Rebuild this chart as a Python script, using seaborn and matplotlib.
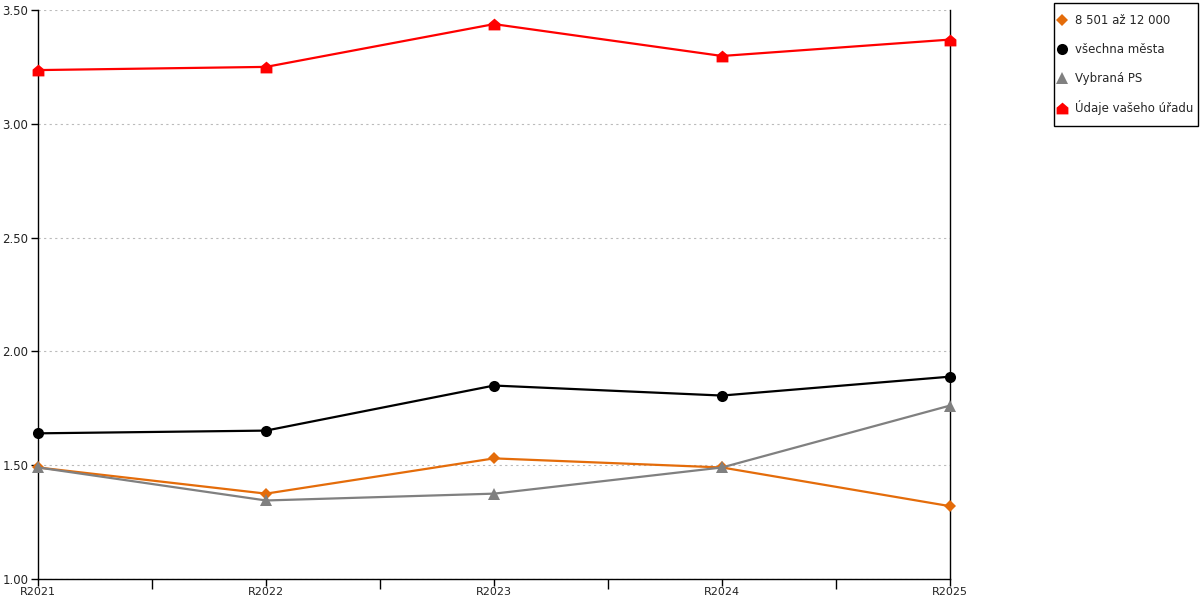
import numpy as np
import pandas as pd
import matplotlib
matplotlib.use("Agg")
import matplotlib.pyplot as plt
import seaborn as sns
from matplotlib.path import Path
from matplotlib.patches import Rectangle
from matplotlib.ticker import FixedLocator, FormatStrFormatter

# Data
years = ["R2021", "R2022", "R2023", "R2024", "R2025"]
skupina = [1.49, 1.375, 1.53, 1.49, 1.32]        # 8 501 až 12 000
vsechna_mesta = [1.64, 1.652, 1.85, 1.806, 1.889]
vybrana_ps = [1.49, 1.345, 1.375, 1.49, 1.762]
vas_urad = [3.236, 3.25, 3.438, 3.298, 3.37]

labels = ["8 501 až 12 000", "všechna města", "Vybraná PS", "Údaje vašeho úřadu"]
colors = ["#E46C0A", "#000000", "#808080", "#FF0000"]

house = Path([(-1, -1), (1, -1), (1, 0.15), (0, 1), (-1, 0.15), (-1, -1)],
             [Path.MOVETO, Path.LINETO, Path.LINETO, Path.LINETO, Path.LINETO, Path.CLOSEPOLY])
markers = ["D", "o", "^", house]
msizes = [6, 8, 8, 8.5]

sns.set_style("white")
plt.rcParams["font.family"] = ["DejaVu Sans"]

fig = plt.figure(figsize=(12, 6), dpi=100)
ax = fig.add_axes([38 / 1200, 21 / 600, (950 - 38) / 1200, (579 - 10) / 600])

x = np.arange(len(years))
series = [skupina, vsechna_mesta, vybrana_ps, vas_urad]
for vals, lab, col, mk, ms in zip(series, labels, colors, markers, msizes):
    sns.lineplot(x=x, y=vals, ax=ax, color=col, label=lab, linewidth=1.6,
                 marker=mk, markersize=ms, markeredgewidth=0, markerfacecolor=col,
                 clip_on=False, zorder=3)

ax.set_xlim(0, 4)
ax.set_ylim(1.0, 3.5)
ax.set_yticks(np.arange(1.0, 3.51, 0.5))
ax.yaxis.set_major_formatter(FormatStrFormatter("%.2f"))
ax.set_xticks(x)
ax.set_xticklabels(years)
ax.xaxis.set_minor_locator(FixedLocator(x[:-1] + 0.5))
ax.tick_params(axis="x", which="major", direction="out", length=5, width=1, color="black",
               labelsize=8, pad=1, bottom=True, labelcolor="#222222")
ax.tick_params(axis="x", which="minor", direction="out", length=7, width=1, color="black", bottom=True)
ax.tick_params(axis="y", direction="out", length=5, width=1, color="black", labelsize=8.5,
               pad=2, left=True, labelcolor="#222222")
ax.grid(axis="y", color="#BBBBBB", linestyle=(0, (2, 3)), linewidth=0.8)
ax.grid(axis="x", visible=False)
for side in ["left", "bottom", "right"]:
    ax.spines[side].set_visible(True)
    ax.spines[side].set_color("black")
    ax.spines[side].set_linewidth(1)
ax.spines["top"].set_visible(False)
ax.set_xlabel("")
ax.set_ylabel("")

handles, labs = ax.get_legend_handles_labels()
ax.get_legend().remove()
leg = fig.legend(handles, labs, loc="upper left", bbox_to_anchor=(1053 / 1200, 1 - 8 / 600),
                 frameon=False, fontsize=8.5, handlelength=0.5,
                 handletextpad=0.8, labelspacing=1.32, borderpad=0.55, borderaxespad=0)
for h in leg.legend_handles:
    h.set_linestyle("none")

# legend box, drawn as in the reference
fig.patches.append(Rectangle((1054 / 1200, 1 - 126 / 600), 144 / 1200, 123 / 600,
                             transform=fig.transFigure, fill=False,
                             edgecolor="black", linewidth=1))

fig.savefig("out.png", dpi=100)
